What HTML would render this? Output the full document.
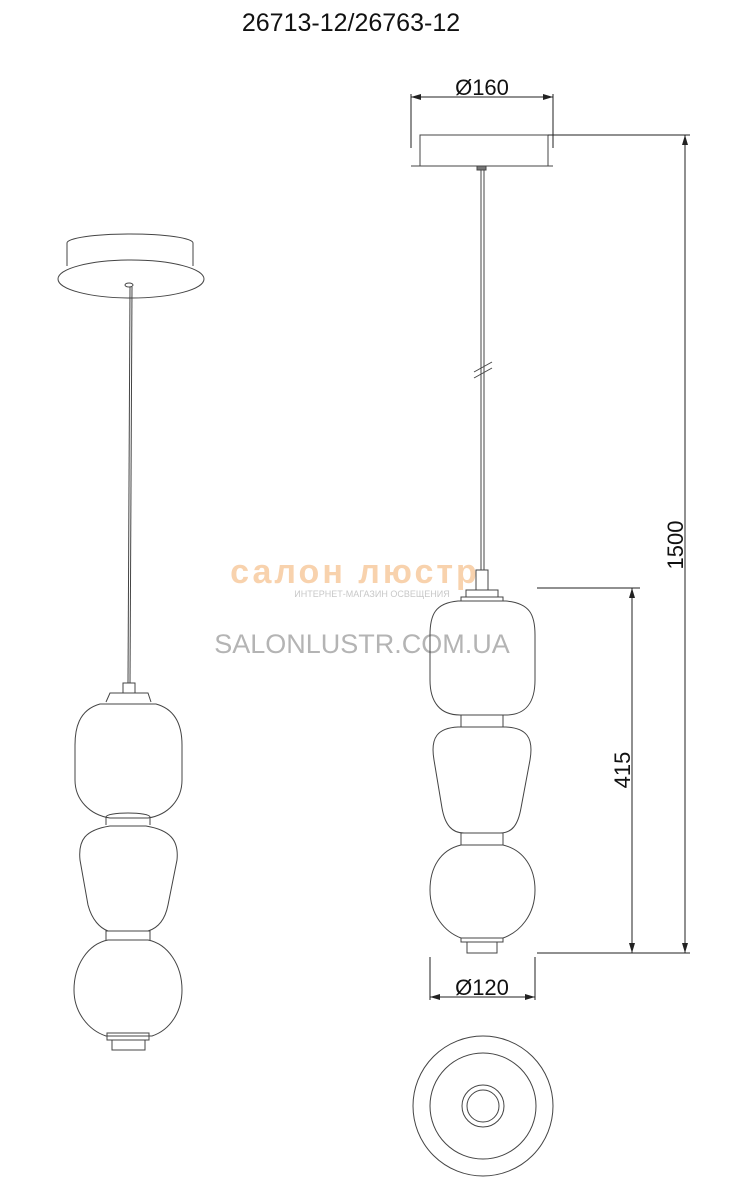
<!DOCTYPE html>
<html><head><meta charset="utf-8"><style>
html,body{margin:0;padding:0;background:#fff}
svg{display:block}
text{font-family:"Liberation Sans",sans-serif}
</style></head><body>
<svg width="746" height="1200" viewBox="0 0 746 1200" xmlns="http://www.w3.org/2000/svg">
<defs>
<marker id="a" viewBox="0 0 10 6" refX="10" refY="3" markerWidth="10" markerHeight="6" orient="auto-start-reverse" markerUnits="userSpaceOnUse"><path d="M0,0 L10,3 L0,6 z" fill="#222"/></marker>
</defs>
<text x="351" y="31" font-size="25" text-anchor="middle" fill="#111">26713-12/26763-12</text>

<!-- watermark -->
<text x="355" y="583" font-size="34" font-weight="bold" text-anchor="middle" fill="#f8d2ad" letter-spacing="3">салон люстр</text>
<text x="372" y="597" font-size="9" text-anchor="middle" fill="#c8c8c8">ИНТЕРНЕТ-МАГАЗИН ОСВЕЩЕНИЯ</text>
<text x="362" y="653" font-size="27" text-anchor="middle" fill="#b4b4b4">SALONLUSTR.COM.UA</text>

<g fill="none" stroke="#444" stroke-width="1">
<!-- left perspective view -->
<path d="M67,243 A63,9 0 0 1 193,243 L193,266 M67,243 L67,266"/>
<ellipse cx="131" cy="279" rx="73" ry="19" fill="#fff"/>
<ellipse cx="129" cy="285" rx="4" ry="2"/>
<line x1="130" y1="287" x2="128" y2="683"/>
<line x1="132" y1="287" x2="130" y2="683"/>
<rect x="123" y="683" width="12" height="10"/>
<path d="M106,702 L110,693 L148,693 L151,702"/>
<path d="M100,704 C78,710 75,730 75,745 L75,780 C75,800 90,815 110,818 L148,818 C168,815 182,800 182,780 L182,745 C182,730 178,710 156,704 Z"/>
<path d="M106,825 L106,817 A22,4 0 0 1 150,817 L150,825"/>
<path d="M110,826 C85,830 78,840 80,860 L88,905 C92,920 100,928 108,931 L148,931 C158,928 165,920 168,905 L177,860 C179,840 170,830 146,826 Z"/>
<path d="M106,940 L106,931 L150,931 L150,940"/>
<path d="M108,940 C88,944 74,965 74,990 C74,1012 88,1030 106,1036 L152,1036 C170,1030 182,1012 182,990 C182,965 168,944 148,940 Z"/>
<path d="M107,1040 L107,1033 L149,1033 L149,1040 Z"/>
<path d="M112,1040 L112,1050 L145,1050 L145,1040"/>

<!-- right elevation -->
<rect x="420" y="135" width="128" height="31"/>
<line x1="411" y1="166" x2="553" y2="166"/>
<rect x="477" y="166" width="9" height="4" fill="#777"/>
<line x1="481" y1="170" x2="481" y2="570"/>
<line x1="484" y1="170" x2="484" y2="570"/>
<line x1="474" y1="372" x2="492" y2="362"/>
<line x1="474" y1="378" x2="492" y2="368"/>
<rect x="476" y="570" width="12" height="20"/>
<rect x="466" y="590" width="32" height="7"/>
<rect x="461" y="597" width="42" height="4"/>
<path d="M458,601 C435,603 430,615 430,635 L430,680 C430,702 440,715 460,715 L506,715 C526,715 535,702 535,680 L535,635 C535,615 530,603 506,601 Z"/>
<rect x="461" y="715" width="42" height="12"/>
<path d="M458,727 C438,728 430,737 434,760 L442,808 C445,825 452,833 464,833 L500,833 C512,833 518,825 521,808 L530,760 C534,737 526,728 506,727 Z"/>
<rect x="461" y="833" width="42" height="12"/>
<path d="M461,845 C440,850 430,868 430,890 C430,915 445,932 461,938 L503,938 C520,932 535,915 535,890 C535,868 524,850 503,845 Z"/>
<rect x="461" y="938" width="42" height="4"/>
<rect x="467" y="942" width="30" height="11"/>

<!-- bottom view -->
<circle cx="483" cy="1106" r="70"/>
<circle cx="483" cy="1106" r="53"/>
<circle cx="483" cy="1106" r="21"/>
<circle cx="483" cy="1106" r="16"/>
</g>

<!-- dimensions -->
<g fill="none" stroke="#222" stroke-width="1">
<line x1="411" y1="97" x2="553" y2="97" marker-start="url(#a)" marker-end="url(#a)"/>
<line x1="411" y1="94" x2="411" y2="148"/>
<line x1="553" y1="94" x2="553" y2="148"/>
<line x1="548" y1="135" x2="690" y2="135"/>
<line x1="537" y1="953" x2="690" y2="953"/>
<line x1="685" y1="135" x2="685" y2="953" marker-start="url(#a)" marker-end="url(#a)"/>
<line x1="537" y1="588" x2="640" y2="588"/>
<line x1="632" y1="588" x2="632" y2="953" marker-start="url(#a)" marker-end="url(#a)"/>
<line x1="430" y1="957" x2="430" y2="1000"/>
<line x1="535" y1="957" x2="535" y2="1000"/>
<line x1="430" y1="997" x2="535" y2="997" marker-start="url(#a)" marker-end="url(#a)"/>
</g>
<g font-size="22" fill="#111">
<text x="482" y="95" text-anchor="middle">Ø160</text>
<text x="482" y="995" text-anchor="middle">Ø120</text>
<text transform="translate(683,545) rotate(-90)" text-anchor="middle">1500</text>
<text transform="translate(630,770) rotate(-90)" text-anchor="middle">415</text>
</g>
</svg>
</body></html>
